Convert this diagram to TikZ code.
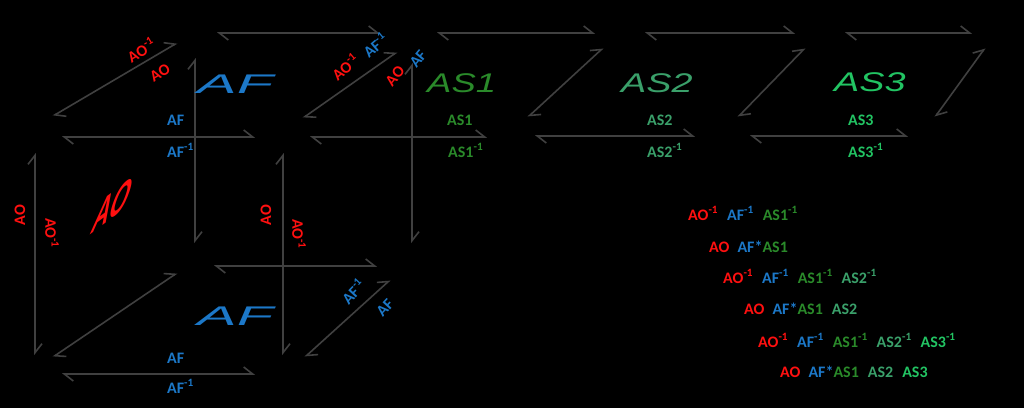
\documentclass[tikz,border=0pt]{standalone}
\usepackage{fontspec}
\setmainfont{Carlito}
\newfontfamily\bigfont{Liberation Sans}
\usetikzlibrary{arrows.meta}
\definecolor{cred}{HTML}{FF1010}
\definecolor{cblue}{HTML}{1C78C8}
\definecolor{cas1}{HTML}{2A8A2A}
\definecolor{cas2}{HTML}{3AA06A}
\definecolor{cas3}{HTML}{22C463}
\definecolor{cgray}{HTML}{404040}
\newcommand{\inv}{\textsuperscript{-1}}
\newcommand{\gp}{\hspace{9pt}}
\begin{document}
\begin{tikzpicture}[x=1pt,y=-1pt,
  edge/.style={draw=cgray, line width=1.6pt,
    {Straight Barb[left,length=9pt,width=14pt]}-{Straight Barb[left,length=9pt,width=14pt]}},
  lab/.style={font=\bfseries\fontsize{16}{16}\selectfont, inner sep=0pt, anchor=base west},
  rlab/.style={font=\bfseries\fontsize{16}{16}\selectfont, inner sep=0pt, anchor=center},
  biglab/.style={font=\bigfont\itshape\fontsize{27}{27}\selectfont, inner sep=0pt, anchor=base west},
]
\fill[black] (0,0) rectangle (1024,408);
\useasboundingbox (0,0) rectangle (1024,408);

% corner coordinates
\coordinate (d1a) at (53,116);  \coordinate (d1b) at (177,43);
\coordinate (h1a) at (217,33);  \coordinate (h1b) at (380,33);
\coordinate (h2a) at (62,137);  \coordinate (h2b) at (255,137);
\coordinate (d2a) at (303,118); \coordinate (d2b) at (397,52);
\coordinate (h3a) at (310,137); \coordinate (h3b) at (487,137);
\coordinate (h4a) at (437,33);  \coordinate (h4b) at (595,33);
\coordinate (d3a) at (528,117); \coordinate (d3b) at (603,48);
\coordinate (h5a) at (535,136); \coordinate (h5b) at (695,136);
\coordinate (h6a) at (645,33);  \coordinate (h6b) at (795,33);
\coordinate (d4a) at (738,117); \coordinate (d4b) at (805,48);
\coordinate (h7a) at (750,136); \coordinate (h7b) at (908,136);
\coordinate (h8a) at (845,33);  \coordinate (h8b) at (972,33);
\coordinate (d5a) at (935,117); \coordinate (d5b) at (985,48);
\coordinate (v1a) at (35,153);  \coordinate (v1b) at (35,355);
\coordinate (v2a) at (195,58);  \coordinate (v2b) at (195,243);
\coordinate (v3a) at (283,153); \coordinate (v3b) at (283,355);
\coordinate (v4a) at (412,63);  \coordinate (v4b) at (412,243);
\coordinate (d6a) at (53,357);  \coordinate (d6b) at (177,273);
\coordinate (h9a) at (214,266); \coordinate (h9b) at (377,266);
\coordinate (d7a) at (305,357); \coordinate (d7b) at (390,280);
\coordinate (h10a) at (62,374); \coordinate (h10b) at (255,374);

\foreach \e in {d1,h1,h2,d2,h3,h4,d3,h5,h6,d4,h7,h8,d5,v1,v2,v3,v4,d6,h9,d7,h10}
  \draw[edge] (\e a) -- (\e b);

% big labels
\node[biglab, text=cblue] (bAF1) at (197,93) {\scalebox{2.2}[1]{AF}};
\node[biglab, text=cblue] (bAF2) at (197,325) {\scalebox{2.2}[1]{AF}};
\node[biglab, text=cas1] (bAS1) at (427,92) {\scalebox{1.35}[1]{AS1}};
\node[biglab, text=cas2] (bAS2) at (621,92) {\scalebox{1.4}[1]{AS2}};
\node[biglab, text=cas3] (bAS3) at (834,91) {\scalebox{1.4}[1]{AS3}};
\begin{scope}[shift={(113,205)}]
\node[font=\bigfont\bfseries\fontsize{30}{30}\selectfont, text=cred, inner sep=0pt,
  cm={0.8,0.6,0.55,1.65,(0,0)}, transform shape] (bAO) at (0,0) {AO};
\end{scope}

% small labels
\node[lab, text=cblue] (l1) at (167,125) {AF};
\node[lab, text=cblue] (l2) at (167,157) {AF\inv};
\node[lab, text=cas1] (l3) at (447,125) {AS1};
\node[lab, text=cas1] (l4) at (448,157) {AS1\inv};
\node[lab, text=cas2] (l5) at (647,125) {AS2};
\node[lab, text=cas2] (l6) at (647,157) {AS2\inv};
\node[lab, text=cas3] (l7) at (848,125) {AS3};
\node[lab, text=cas3] (l8) at (848,157) {AS3\inv};
\node[lab, text=cblue] (l9) at (167,363) {AF};
\node[lab, text=cblue] (l10) at (167,393) {AF\inv};

% rotated labels
\node[rlab, text=cred, rotate=31] (r1) at (141,50) {AO\inv};
\node[rlab, text=cred, rotate=31] (r2) at (160,73) {AO};
\node[rlab, text=cred, rotate=40] (r3) at (345,67) {AO\inv};
\node[rlab, text=cblue, rotate=40] (r4) at (375,45) {AF\inv};
\node[rlab, text=cred, rotate=50] (r5) at (395,76) {AO};
\node[rlab, text=cblue, rotate=50] (r6) at (418,59) {AF};
\node[rlab, text=cred, rotate=90] (r7) at (20,215) {AO};
\node[rlab, text=cred, rotate=-90] (r8) at (52,233) {AO\inv};
\node[rlab, text=cred, rotate=90] (r9) at (266,215) {AO};
\node[rlab, text=cred, rotate=-90] (r10) at (299,234) {AO\inv};
\node[rlab, text=cblue, rotate=47] (r11) at (353,291) {AF\inv};
\node[rlab, text=cblue, rotate=47] (r12) at (385,308) {AF};

% composition list
\node[lab] (c1) at (688,220) {\textcolor{cred}{AO\inv}\gp\textcolor{cblue}{AF\inv}\gp\textcolor{cas1}{AS1\inv}};
\node[lab] (c2) at (709,252) {\textcolor{cred}{AO}\hspace{8pt}\textcolor{cblue}{AF*}\textcolor{cas1}{AS1}};
\node[lab] (c3) at (723,283) {\textcolor{cred}{AO\inv}\gp\textcolor{cblue}{AF\inv}\gp\textcolor{cas1}{AS1\inv}\gp\textcolor{cas2}{AS2\inv}};
\node[lab] (c4) at (744,314) {\textcolor{cred}{AO}\hspace{8pt}\textcolor{cblue}{AF*}\textcolor{cas1}{AS1}\gp\textcolor{cas2}{AS2}};
\node[lab] (c5) at (758,347) {\textcolor{cred}{AO\inv}\gp\textcolor{cblue}{AF\inv}\gp\textcolor{cas1}{AS1\inv}\gp\textcolor{cas2}{AS2\inv}\gp\textcolor{cas3}{AS3\inv}};
\node[lab] (c6) at (780,377) {\textcolor{cred}{AO}\hspace{8pt}\textcolor{cblue}{AF*}\textcolor{cas1}{AS1}\gp\textcolor{cas2}{AS2}\gp\textcolor{cas3}{AS3}};
\end{tikzpicture}
\end{document}
